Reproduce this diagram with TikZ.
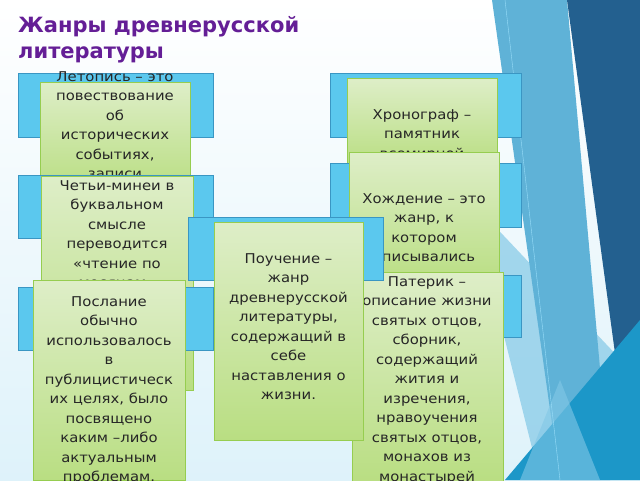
\documentclass[tikz,border=0pt]{standalone}
\usepackage{fontspec}
\setmainfont{DejaVu Sans}[FakeStretch=1.1]
\newfontfamily\titlefont{DejaVu Sans}
\definecolor{bfill}{RGB}{91,200,238}
\definecolor{bdraw}{RGB}{58,150,195}
\definecolor{gtop}{RGB}{222,238,200}
\definecolor{gbot}{RGB}{185,222,130}
\definecolor{gdraw}{RGB}{150,205,80}
\definecolor{titlec}{RGB}{100,30,150}
\definecolor{bgb}{RGB}{222,242,250}
\definecolor{d1}{RGB}{95,178,215}
\definecolor{d2}{RGB}{35,96,143}
\definecolor{d3}{RGB}{28,151,200}
\definecolor{d4}{RGB}{130,200,230}
\begin{document}
\begin{tikzpicture}[x=1pt,y=-1pt,
  bbox/.style={draw=bdraw, line width=0.8pt, fill=bfill},
  gbox/.style={draw=gdraw, line width=0.8pt, top color=gtop, bottom color=gbot},
  txt/.style={align=center, font=\fontsize{13.5}{19.5}\selectfont, inner sep=0pt, anchor=north, text=black!85}]
\useasboundingbox (0,0) rectangle (640,480);
\shade[top color=white, bottom color=bgb] (0,0) rectangle (640,480);
% decorations
\fill[d4, opacity=.7] (470,200) -- (540,480) -- (640,380) -- cycle;
\fill[d1] (492,0) -- (567,0) -- (610,480) -- (560,480) -- cycle;
\fill[d2] (567,0) -- (640,0) -- (640,330) -- (620,390) -- cycle;
\fill[d3] (505,480) -- (640,320) -- (640,480) -- cycle;
\fill[d4, opacity=.6] (520,480) -- (560,380) -- (600,480) -- cycle;
\draw[white!60!cyan, line width=.4pt] (505,0) -- (560,480);
\node[anchor=north west, font=\titlefont\fontsize{21}{26}\selectfont\bfseries, text=titlec, align=left, inner sep=0pt] (title) at (18,16) {Жанры древнерусской\\литературы};
% row 1
\draw[bbox] (18,73) rectangle (213,137);
\draw[bbox] (330,73) rectangle (521,137);
\draw[gbox] (40,82) rectangle (190,190);
\node[txt] (t1) at (115,71) {Летопись – это\\повествование\\об\\исторических\\событиях,\\записи};
\draw[gbox] (347,78) rectangle (497,165);
\node[txt] (t2) at (422,109) {Хронограф –\\памятник\\всемирной};
% row 2
\draw[bbox] (18,175) rectangle (213,238);
\draw[bbox] (330,163) rectangle (521,227);
\draw[gbox] (41,176) rectangle (193,390);
\node[txt] (t3) at (117,180) {Четьи-минеи в\\буквальном\\смысле\\переводится\\«чтение по\\месяцам»};
\draw[gbox] (349,152) rectangle (499,285);
\node[txt] (t4) at (424,193) {Хождение – это\\жанр, к\\котором\\описывались};
% row 3 left
\draw[bbox] (18,287) rectangle (213,350);
\draw[gbox] (33,280) rectangle (185,480);
\node[txt] (t7) at (109,296) {Послание\\обычно\\использовалось\\в\\публицистическ\\их целях, было\\посвящено\\каким –либо\\актуальным\\проблемам.};
% right
\draw[bbox] (330,275) rectangle (521,337);
\draw[gbox] (352,272) rectangle (503,482);
\node[txt] (t6) at (427,276) {Патерик –\\описание жизни\\святых отцов,\\сборник,\\содержащий\\жития и\\изречения,\\нравоучения\\святых отцов,\\монахов из\\монастырей};
% center
\draw[bbox] (188,217) rectangle (383,280);
\draw[gbox] (214,222) rectangle (363,440);
\node[txt] (t5) at (288.5,253) {Поучение –\\жанр\\древнерусской\\литературы,\\содержащий в\\себе\\наставления о\\жизни.};
\end{tikzpicture}
\end{document}
